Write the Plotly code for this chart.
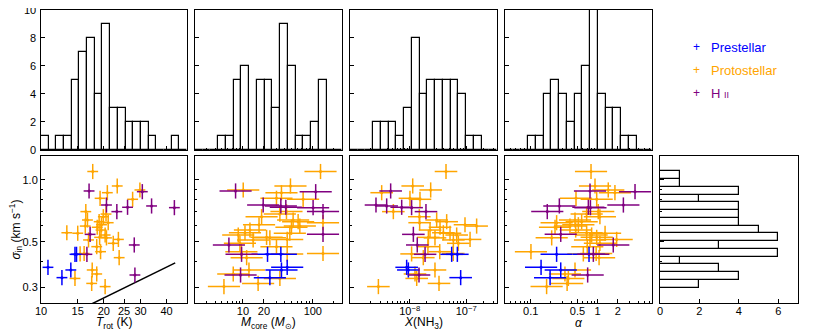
import numpy as np
import plotly.graph_objects as go

# prestellar cores
pre_sigma = [0.434, 0.434, 0.375, 0.364, 0.334]
pre_trot = [14.55, 14.8, 10.8, 13.9, 12.6]
pre_mcore = [22.5, 34.9, 43.0, 35.6, 24.3]
pre_xnh3 = [5.53e-8, 6.97e-8, 8.83e-9, 9.46e-9, 7.98e-8]
pre_alpha = [0.244, 0.743, 0.143, 0.281, 0.195]

# protostellar cores
proto_sigma = [1.10, 0.935, 0.894, 0.867, 0.814, 0.805, 0.701, 0.682, 0.662, 0.638,
               0.626, 0.619, 0.605, 0.596, 0.588, 0.570, 0.553, 0.550, 0.539, 0.525,
               0.522, 0.513, 0.510, 0.491, 0.473, 0.447, 0.436, 0.438, 0.418, 0.364,
               0.348, 0.331, 0.313, 0.302]
proto_trot = [17.7, 23.2, 29.8, 20.8, 19.2, 27.5, 16.4, 20.5, 19.9, 16.7,
              19.0, 21.0, 19.5, 16.3, 18.6, 19.4, 13.3, 15.0, 20.3, 19.1,
              20.6, 23.5, 16.9, 22.2, 18.5, 19.3, 15.4, 16.1, 23.7, 17.6,
              18.5, 14.55, 17.5, 20.3]
proto_mcore = [129, 47.9, 10.1, 35.6, 30.2, 72.7, 42.0, 33.8, 18.5, 52.3,
               61.7, 140, 17.0, 65.2, 49.5, 12.6, 10.7, 46.9, 8.57, 21.8,
               24.3, 43.0, 14.0, 9.06, 30.2, 9.5, 43.0, 140, 11.3, 12.2,
               7.27, 33.8, 16.5, 5.35]
proto_xnh3 = [4.39e-8, 1.13e-8, 2.35e-8, 3.19e-9, 1.01e-8, 1.52e-8, 5.13e-9, None, 1.48e-8, 3.00e-8,
              4.51e-8, 1.50e-8, 9.52e-8, 1.53e-7, 3.44e-8, 2.29e-8, 3.94e-8, 5.17e-8, 6.78e-8, 2.14e-8,
              2.80e-8, 1.17e-7, 5.92e-8, 7.26e-8, 2.10e-8, 3.40e-8, 1.08e-8, 5.90e-8, 1.74e-8, 2.80e-8,
              1.24e-8, 1.33e-8, 3.30e-8, 2.79e-9]
proto_alpha = [0.796, 0.913, 1.44, 1.81, 0.475, 0.967, 1.02, 0.685, 1.08, 0.459,
               0.577, 0.244, 0.515, 0.386, 0.231, 0.47, 0.685, 1.29, 0.813, 0.967,
               0.206, 1.92, 0.769, 1.08, 0.70, 0.101, 0.611, 0.95, 1.05, 0.459,
               0.325, 0.365, 0.35, 0.173]

# HII region cores
hii_sigma = [0.884, 0.877, 0.755, 0.747, 0.736, 0.733, 0.701, 0.543, 0.482, 0.434, 0.344]
hii_trot = [17.0, 30.6, 20.6, 33.9, 26.0, 43.6, 23.1, 17.2, 28.0, 16.6, 28.2]
hii_mcore = [7.85, 110, 19.5, 34.9, 41.1, 101, 140, 140, 6.3, 9.56, 9.25]
hii_xnh3 = [4.60e-9, None, 2.53e-9, 3.91e-9, 7.21e-9, 1.08e-8, 1.94e-8, 1.16e-8, 1.36e-8, 1.87e-8, 1.46e-8]
hii_alpha = [0.769, 3.61, 2.42, 0.268, 0.726, 0.78, 0.177, 0.281, 1.71, 0.862, 0.709]

# histogram counts, 19 bins spanning each axis range
trot_counts = [1, 0, 1, 1, 5, 7, 8, 4, 9, 3, 3, 2, 2, 2, 1, 0, 0, 1, 0]
mcore_counts = [0, 0, 0, 1, 1, 5, 6, 0, 5, 5, 3, 9, 6, 1, 1, 2, 5, 0, 0]
xnh3_counts = [0, 0, 0, 2, 2, 2, 1, 3, 8, 4, 5, 5, 5, 5, 4, 1, 1, 0, 0]
alpha_counts = [0, 0, 0, 1, 1, 4, 5, 4, 2, 4, 6, 11, 4, 3, 3, 1, 1, 0, 0]
sigma_counts = [0, 0, 2, 4, 3, 1, 6, 3, 6, 5, 4, 4, 4, 2, 4, 1, 1, 0, 0]
count_ticks = [0, 2, 4, 6, 8, 10]

# thermal sound speed line
cs_trot = np.geomspace(10, 44, 30)
cs_sigma = 0.188 * np.sqrt(cs_trot / 10.0)

W, H = 814, 333
OFF = 8  # page body margin, positions below are in window pixels
FONT = "Liberation Sans, Arial, sans-serif"
groups = [
    ("Protostellar", "orange", proto_sigma, [proto_trot, proto_mcore, proto_xnh3, proto_alpha]),
    ("Prestellar", "blue", pre_sigma, [pre_trot, pre_mcore, pre_xnh3, pre_alpha]),
    ("H II", "purple", hii_sigma, [hii_trot, hii_mcore, hii_xnh3, hii_alpha]),
]

panels = [
    dict(rng=(1.0, 1.7), counts=trot_counts, err=0.026,
         major=[10, 15, 20, 25, 30, 40], labels=["10", "15", "20", "25", "30", "40"], minor=[],
         title="<i>T</i><sub>rot</sub> (K)"),
    dict(rng=(0.314, 2.418), counts=mcore_counts, err=0.23,
         major=[10, 20, 100], labels=["10", "20", "100"],
         minor=[3, 4, 5, 6, 7, 8, 9, 30, 40, 50, 60, 70, 80, 90, 200],
         title="<i>M</i><sub>core</sub> (<i>M</i><sub>⊙</sub>)"),
    dict(rng=(-9.057, -6.455), counts=xnh3_counts, err=0.2,
         major=[1e-8, 1e-7], labels=["10<sup>−8</sup>", "10<sup>−7</sup>"],
         minor=[2e-9, 3e-9, 4e-9, 5e-9, 6e-9, 7e-9, 8e-9, 9e-9, 2e-8, 3e-8, 4e-8, 5e-8,
                6e-8, 7e-8, 8e-8, 9e-8, 2e-7, 3e-7],
         title="<i>X</i>(NH<sub>3</sub>)"),
    dict(rng=(-1.383, 0.811), counts=alpha_counts, err=0.24,
         major=[0.1, 0.5, 1, 2], labels=["0.1", "0.5", "1", "2"],
         minor=[0.05, 0.06, 0.07, 0.08, 0.09, 0.2, 0.3, 0.4, 0.6, 0.7, 0.8, 0.9, 3, 4, 5, 6],
         title="<i>α</i>"),
]
sig_rng = (-0.600, 0.117)
sig_err = 0.037


def px(x):
    return (x - OFF) / W


def py(y):
    return 1 - (y - OFF) / H


cols = [(41, 187), (195, 342), (350, 497), (505, 652), (660, 798)]
top_dom = [py(150), py(10)]
bot_dom = [py(303), py(156)]


def frame(**kw):
    d = dict(showline=True, mirror=True, linecolor="black", linewidth=1,
             showgrid=False, zeroline=False, ticks="inside", ticklen=4,
             tickcolor="black", tickwidth=1, automargin=False, ticklabeloverflow="allow",
             tickfont=dict(family=FONT, size=11, color="black"))
    d.update(kw)
    return d


def minor(vals):
    return dict(tickvals=vals, ticks="inside", ticklen=2, tickcolor="black", showgrid=False)


def log_err(vals, dex):
    v = np.array(vals, dtype=float)
    return v * (10 ** dex - 1), v * (1 - 10 ** -dex)


fig = go.Figure()
layout = {}

for i, p in enumerate(panels):
    top, bot = i + 1, i + 5
    lo, hi = p["rng"]
    dom = [px(cols[i][0]), px(cols[i][1])]
    edges = np.linspace(lo, hi, len(p["counts"]) + 1)
    fig.add_trace(go.Bar(
        x=(edges[:-1] + edges[1:]) / 2, y=p["counts"], width=edges[1] - edges[0],
        marker=dict(color="white", line=dict(color="black", width=1.2)),
        xaxis=f"x{top}", yaxis=f"y{top}"))
    layout[f"xaxis{top}"] = frame(domain=dom, anchor=f"y{top}", range=[lo, hi],
                                  tickvals=list(np.log10(p["major"])), showticklabels=False,
                                  minor=minor(list(np.log10(p["minor"]))) if p["minor"] else None)
    # count labels of the first panel are added as annotations below
    layout[f"yaxis{top}"] = frame(domain=top_dom, anchor=f"x{top}", range=[-0.01, 10],
                                  tickvals=count_ticks, showticklabels=False)

    if i == 0:
        fig.add_trace(go.Scatter(x=cs_trot, y=cs_sigma, mode="lines",
                                 line=dict(color="black", width=1.5),
                                 xaxis=f"x{bot}", yaxis=f"y{bot}"))
    for name, color, sig, xs in groups:
        xp, xm = log_err(xs[i], p["err"])
        yp, ym = log_err(sig, sig_err)
        fig.add_trace(go.Scatter(
            x=np.array(xs[i], dtype=float), y=sig, mode="markers",
            marker=dict(color=color, size=3),
            error_x=dict(type="data", symmetric=False, array=xp, arrayminus=xm,
                         color=color, thickness=1.5, width=0),
            error_y=dict(type="data", symmetric=False, array=yp, arrayminus=ym,
                         color=color, thickness=1.5, width=0),
            xaxis=f"x{bot}", yaxis=f"y{bot}"))
    layout[f"xaxis{bot}"] = frame(domain=dom, anchor=f"y{bot}", type="log", range=[lo, hi],
                                  tickvals=p["major"], ticktext=p["labels"], ticklabelstandoff=-2,
                                  minor=minor(p["minor"]) if p["minor"] else None)
    layout[f"yaxis{bot}"] = frame(domain=bot_dom, anchor=f"x{bot}", type="log",
                                  range=list(sig_rng), tickvals=[0.3, 0.5, 1.0],
                                  ticktext=["0.3", "0.5", "1.0"], showticklabels=(i == 0),
                                  minor=minor([0.4, 0.6, 0.7, 0.8, 0.9]))

# sigma histogram on the right
edges = np.linspace(sig_rng[0], sig_rng[1], len(sigma_counts) + 1)
fig.add_trace(go.Bar(
    y=(edges[:-1] + edges[1:]) / 2, x=sigma_counts, width=edges[1] - edges[0], orientation="h",
    marker=dict(color="white", line=dict(color="black", width=1.2)),
    xaxis="x9", yaxis="y9"))
layout["xaxis9"] = frame(domain=[px(cols[4][0]), px(cols[4][1])], anchor="y9", range=[0, 7],
                         tickvals=[0, 2, 4, 6], ticklabelstandoff=-2)
layout["yaxis9"] = frame(domain=bot_dom, anchor="x9", range=list(sig_rng),
                         tickvals=list(np.log10([0.3, 0.5, 1.0])), showticklabels=False,
                         minor=minor(list(np.log10([0.4, 0.6, 0.7, 0.8, 0.9]))))

layout["xaxis"] = layout.pop("xaxis1")
layout["yaxis"] = layout.pop("yaxis1")
for k, v in layout.items():
    if v.get("minor") is None:
        v.pop("minor", None)

annotations = []
for i, p in enumerate(panels):
    cx = (cols[i][0] + cols[i][1]) / 2
    annotations.append(dict(x=px(cx), y=py(323), xref="paper", yref="paper",
                            text=p["title"], showarrow=False, xanchor="center", yanchor="middle",
                            font=dict(family=FONT, size=12, color="black")))
annotations.append(dict(x=px(15), y=py(229.5), xref="paper", yref="paper",
                        text="<i>σ</i><sub>in</sub> (km s<sup>−1</sup>)", textangle=-90,
                        showarrow=False, xanchor="center", yanchor="middle",
                        font=dict(family=FONT, size=12, color="black")))
# count labels on the first histogram, placed on its own y scale
for v in count_ticks:
    annotations.append(dict(x=px(37.5), y=v, xref="paper", yref="y", text=str(v),
                            showarrow=False, xanchor="right", yanchor="middle",
                            font=dict(family=FONT, size=11, color="black")))

# legend
legend_rows = [("Prestellar", "blue"), ("Protostellar", "orange"),
               ("H <span style='font-size:9px'>II</span>", "purple")]
for j, (label, color) in enumerate(legend_rows):
    y = py(47 + 23 * j)
    annotations.append(dict(x=px(696), y=y, xref="paper", yref="paper", text="+",
                            showarrow=False, xanchor="center", yanchor="middle",
                            font=dict(family=FONT, size=12, color=color)))
    annotations.append(dict(x=px(709), y=y, xref="paper", yref="paper", text=label,
                            showarrow=False, xanchor="left", yanchor="middle",
                            font=dict(family=FONT, size=13, color=color)))

fig.update_layout(width=W, height=H, margin=dict(l=0, r=0, t=0, b=0),
                  plot_bgcolor="white", paper_bgcolor="white", showlegend=False,
                  bargap=0, annotations=annotations,
                  font=dict(family=FONT, size=11, color="black"), **layout)

fig.write_html("out.html")
